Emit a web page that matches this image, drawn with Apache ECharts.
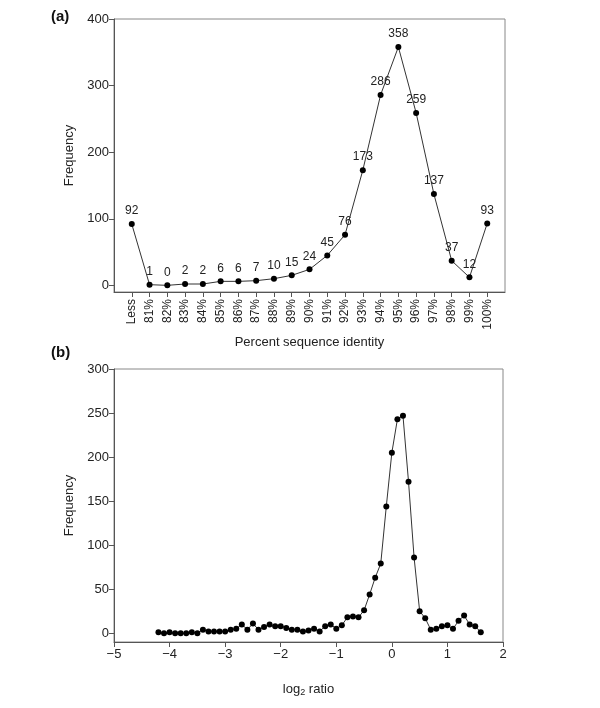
<!DOCTYPE html>
<html>
<head>
<meta charset="utf-8">
<script src="https://cdn.jsdelivr.net/npm/echarts@6/dist/echarts.min.js"></script>
<style>
  html, body { margin: 0; padding: 0; background: #fff; }
  #chart { width: 600px; height: 708px; }
</style>
</head>
<body>
<div id="chart"></div>
<script>
// panel (a): percent sequence identity histogram
var identityCats = ['Less', '81%', '82%', '83%', '84%', '85%', '86%', '87%', '88%', '89%', '90%',
    '91%', '92%', '93%', '94%', '95%', '96%', '97%', '98%', '99%', '100%'];
var identityFreq = [92, 1, 0, 2, 2, 6, 6, 7, 10, 15, 24, 45, 76, 173, 286, 358, 259, 137, 37, 12, 93];
var yTicksA = [0, 100, 200, 300, 400];

// panel (b): log2 ratio histogram
var ratioX = [-4.2, -4.1, -4.0, -3.9, -3.8, -3.7, -3.6, -3.5, -3.4, -3.3, -3.2, -3.1, -3.0,
    -2.9, -2.8, -2.7, -2.6, -2.5, -2.4, -2.3, -2.2, -2.1, -2.0, -1.9, -1.8, -1.7, -1.6, -1.5,
    -1.4, -1.3, -1.2, -1.1, -1.0, -0.9, -0.8, -0.7, -0.6, -0.5, -0.4, -0.3, -0.2, -0.1, 0.0,
    0.1, 0.2, 0.3, 0.4, 0.5, 0.6, 0.7, 0.8, 0.9, 1.0, 1.1, 1.2, 1.3, 1.4, 1.5, 1.6];
var ratioFreq = [1, 0, 1, 0, 0, 0, 1, 0, 4, 2, 2, 2, 2,
    4, 5, 10, 4, 11, 4, 7, 10, 8, 8, 6, 4, 4, 2, 3,
    5, 2, 8, 10, 5, 9, 18, 19, 18, 26, 44, 63, 79, 144, 205,
    243, 247, 172, 86, 25, 17, 4, 5, 8, 9, 5, 14, 20, 10, 8, 1];
var yTicksB = [0, 50, 100, 150, 200, 250, 300];

var dom = document.getElementById('chart');
var myChart = echarts.init(dom);
var font = 'Liberation Sans, Arial, sans-serif';
var axisColor = '#555';
var textColor = '#222';

var idxA = identityCats.map(function (c, i) { return i; });

var option = {
    animation: false,
    textStyle: { fontFamily: font },
    title: [
        { text: '(a)', left: 46, top: 4, textStyle: { fontSize: 15, fontWeight: 'bold', color: '#111', fontFamily: font } },
        { text: '(b)', left: 46, top: 340, textStyle: { fontSize: 15, fontWeight: 'bold', color: '#111', fontFamily: font } }
    ],
    grid: [
        { left: 114, top: 19, width: 391, height: 273, show: true, borderColor: '#888', borderWidth: 1 },
        { left: 114, top: 369, width: 389, height: 273, show: true, borderColor: '#888', borderWidth: 1 }
    ],
    xAxis: [{
        gridIndex: 0,
        type: 'value',
        min: -1,
        max: 21,
        name: 'Percent sequence identity',
        nameLocation: 'middle',
        nameGap: 44,
        nameTextStyle: { fontSize: 13, color: textColor },
        axisLine: { show: true, onZero: false, lineStyle: { color: axisColor } },
        axisTick: { show: true, length: 5, customValues: idxA, lineStyle: { color: axisColor } },
        axisLabel: {
            customValues: idxA,
            rotate: 90,
            fontSize: 12,
            color: textColor,
            margin: 7,
            formatter: function (v) { return identityCats[v] || ''; }
        },
        splitLine: { show: false }
    }, {
        gridIndex: 1,
        type: 'value',
        min: -5,
        max: 2,
        interval: 1,
        name: 'log{sub|2} ratio',
        nameLocation: 'middle',
        nameGap: 40,
        nameTextStyle: {
            fontSize: 13, color: textColor,
            rich: { sub: { fontSize: 9, verticalAlign: 'bottom', padding: [6, 0, 0, 0], color: textColor } }
        },
        axisLine: { show: true, onZero: false, lineStyle: { color: axisColor } },
        axisTick: { show: true, length: 5, lineStyle: { color: axisColor } },
        axisLabel: {
            fontSize: 13,
            color: textColor,
            margin: 6,
            formatter: function (v) { return String(v).replace('-', '\u2212'); }
        },
        splitLine: { show: false }
    }],
    yAxis: [{
        gridIndex: 0,
        type: 'value',
        min: -10,
        max: 400,
        name: 'Frequency',
        nameLocation: 'middle',
        nameGap: 36,
        nameTextStyle: { fontSize: 13, color: textColor },
        axisLine: { show: true, onZero: false, lineStyle: { color: axisColor } },
        axisTick: { show: true, length: 5, customValues: yTicksA, lineStyle: { color: axisColor } },
        axisLabel: { customValues: yTicksA, fontSize: 13, color: textColor, margin: 5 },
        splitLine: { show: false }
    }, {
        gridIndex: 1,
        type: 'value',
        min: -10,
        max: 300,
        name: 'Frequency',
        nameLocation: 'middle',
        nameGap: 36,
        nameTextStyle: { fontSize: 13, color: textColor },
        axisLine: { show: true, onZero: false, lineStyle: { color: axisColor } },
        axisTick: { show: true, length: 5, customValues: yTicksB, lineStyle: { color: axisColor } },
        axisLabel: { customValues: yTicksB, fontSize: 13, color: textColor, margin: 5 },
        splitLine: { show: false }
    }],
    series: [{
        name: 'identity',
        type: 'line',
        xAxisIndex: 0,
        yAxisIndex: 0,
        data: identityFreq.map(function (v, i) { return [i, v]; }),
        symbol: 'circle',
        symbolSize: 6,
        itemStyle: { color: '#000' },
        lineStyle: { color: '#333', width: 1 },
        label: {
            show: true,
            position: 'top',
            distance: 4,
            fontSize: 12,
            color: textColor,
            formatter: function (p) { return p.value[1]; }
        }
    }, {
        name: 'ratio',
        type: 'line',
        xAxisIndex: 1,
        yAxisIndex: 1,
        data: ratioX.map(function (x, i) { return [x, ratioFreq[i]]; }),
        symbol: 'circle',
        symbolSize: 6,
        itemStyle: { color: '#000' },
        lineStyle: { color: '#333', width: 1 }
    }]
};

window.addEventListener('resize', function () {
    myChart.resize();
});

myChart.setOption(option);
</script>
</body>
</html>
